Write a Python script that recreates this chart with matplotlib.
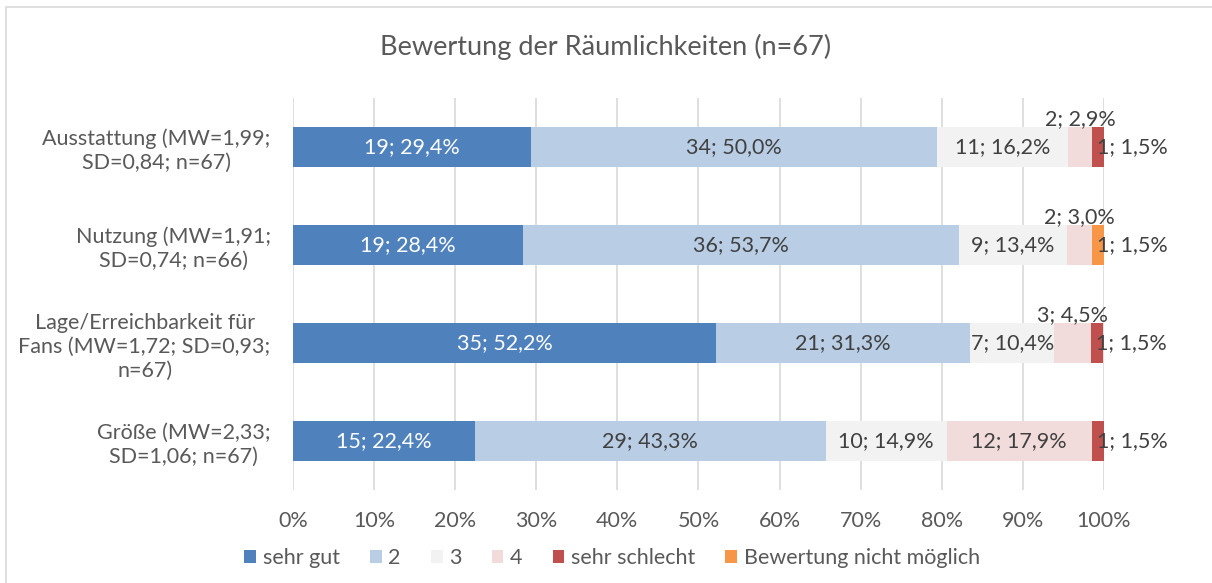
import numpy as np
import matplotlib.pyplot as plt
from matplotlib.patches import Rectangle

plt.rcParams["font.family"] = ["Lato", "DejaVu Sans"]

# ---------------------------------------
# Data
# ---------------------------------------

categories = [
    "Ausstattung (MW=1,99;\nSD=0,84; n=67)",
    "Nutzung (MW=1,91;\nSD=0,74; n=66)",
    "Lage/Erreichbarkeit für\nFans (MW=1,72; SD=0,93;\nn=67)",
    "Größe (MW=2,33;\nSD=1,06; n=67)",
]

series_names = ["sehr gut", "2", "3", "4", "sehr schlecht", "Bewertung nicht möglich"]

sehr_gut = [29.4, 28.4, 52.2, 22.4]
zwei = [50.0, 53.7, 31.3, 43.3]
drei = [16.2, 13.4, 10.4, 14.9]
vier = [2.9, 3.0, 4.5, 17.9]
sehr_schlecht = [1.5, 0.0, 1.5, 1.5]
nicht_moeglich = [0.0, 1.5, 0.0, 0.0]

n_sehr_gut = [19, 19, 35, 15]
n_zwei = [34, 36, 21, 29]
n_drei = [11, 9, 7, 10]
n_vier = [2, 2, 3, 12]
n_sehr_schlecht = [1, 0, 1, 1]
n_nicht_moeglich = [0, 1, 0, 0]

colors = ["#4F81BD", "#B9CDE5", "#F2F2F2", "#F2DCDB", "#C0504D", "#F79646"]
label_colors = ["white", "#404040", "#404040", "#404040", "#404040", "#404040"]

values = [sehr_gut, zwei, drei, vier, sehr_schlecht, nicht_moeglich]
counts = [n_sehr_gut, n_zwei, n_drei, n_vier, n_sehr_schlecht, n_nicht_moeglich]

FS = 15.5

# ---------------------------------------
# Plot
# ---------------------------------------

fig = plt.figure(figsize=(12.12, 5.83), dpi=100)
fig.patches.append(Rectangle((0.005, -0.1), 1.2, 1.088, transform=fig.transFigure,
                             fill=False, edgecolor="#D9D9D9", linewidth=1.2))

ax = fig.add_axes([0.2417, 0.1595, 0.6691, 0.6724])

y = np.arange(len(categories))
bar_h = 0.4
left = np.zeros(len(categories))

for k in range(len(series_names)):
    vals = np.array(values[k])
    ax.barh(y, vals, left=left, height=bar_h, color=colors[k],
            label=series_names[k], zorder=3)

    for i in range(len(categories)):
        v = vals[i]
        if v <= 0:
            continue
        txt = f"{counts[k][i]}; {v:.1f}%".replace(".", ",")
        if k >= 4:
            # small last segment: label to the right
            ax.text(left[i] + 0.6, y[i], txt, ha="left", va="center",
                    fontsize=FS, color="#404040", zorder=4)
        elif v < 5:
            # small segment: label above the bar
            ax.text(left[i] + v / 2, y[i] - bar_h / 2 - 0.08, txt,
                    ha="center", va="center", fontsize=FS,
                    color="#404040", zorder=4)
        else:
            ax.text(left[i] + v / 2, y[i], txt, ha="center", va="center",
                    fontsize=FS, color=label_colors[k], zorder=4)
    left = left + vals

ax.set_xlim(0, 100)
ax.set_ylim(len(categories) - 0.5, -0.5)
ax.set_xticks(np.arange(0, 101, 10))
ax.set_xticklabels([f"{t}%" for t in range(0, 101, 10)])
ax.set_yticks(y)
ax.set_yticklabels(categories, ha="right", multialignment="center",
                   linespacing=1.25)
ax.tick_params(axis="both", length=0, labelsize=FS, labelcolor="#595959")
ax.tick_params(axis="x", pad=15)
ax.tick_params(axis="y", pad=16)

ax.grid(axis="x", color="#D9D9D9", linewidth=1.2, zorder=0)
for s in ax.spines.values():
    s.set_visible(False)

fig.text(0.5, 0.92, "Bewertung der Räumlichkeiten (n=67)", ha="center",
         va="center", fontsize=19.5, color="#595959")

fig.legend(loc="center", bbox_to_anchor=(0.505, 0.043), ncol=6, frameon=False,
           fontsize=FS, labelcolor="#595959", handlelength=0.55,
           handleheight=0.55, handletextpad=0.3, columnspacing=1.4)

fig.savefig("out.png", dpi=100)
plt.close(fig)
